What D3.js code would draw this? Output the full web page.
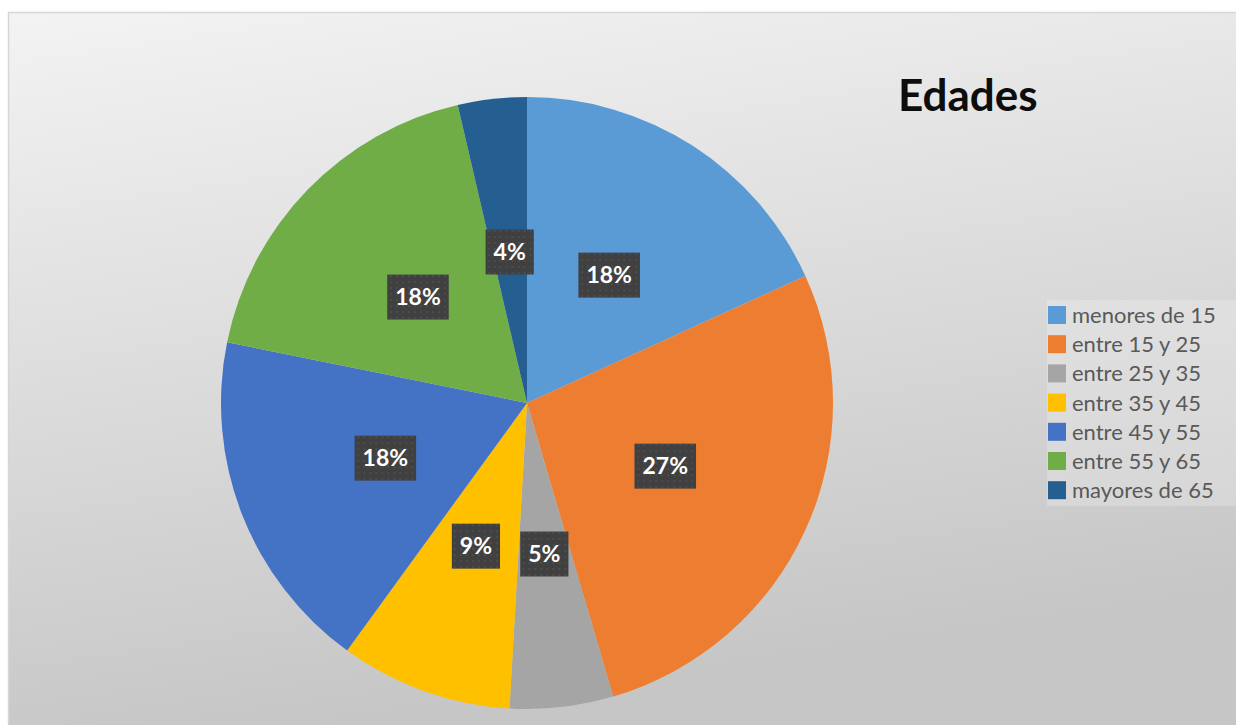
<!DOCTYPE html>
<html>
<head>
<meta charset="utf-8">
<script src="https://cdn.jsdelivr.net/npm/d3@7"></script>
<style>
  html, body { margin: 0; padding: 0; background: #ffffff; }
  svg { display: block; }
</style>
</head>
<body>
<svg id="chart" width="1236" height="725"></svg>
<script>
const categories = ["menores de 15", "entre 15 y 25", "entre 25 y 35", "entre 35 y 45", "entre 45 y 55", "entre 55 y 65", "mayores de 65"];
const values = [10, 15, 3, 5, 10, 10, 2];
const colors = ["#5B9BD5", "#ED7D31", "#A5A5A5", "#FFC000", "#4472C4", "#70AD47", "#255E91"];
const title = "Edades";

const W = 1236, H = 725;
const svg = d3.select("#chart");
const defs = svg.append("defs");

const bg = defs.append("linearGradient").attr("id", "bg")
  .attr("x1", "0").attr("y1", "0").attr("x2", "0.25").attr("y2", "1");
bg.append("stop").attr("offset", "0%").attr("stop-color", "#f3f3f3");
bg.append("stop").attr("offset", "100%").attr("stop-color", "#c6c6c6");

const pat = defs.append("pattern").attr("id", "dots")
  .attr("width", 6).attr("height", 6).attr("patternUnits", "userSpaceOnUse");
pat.append("rect").attr("width", 6).attr("height", 6).attr("fill", "#404040");
pat.append("circle").attr("cx", 3).attr("cy", 3).attr("r", 0.8).attr("fill", "#5a5a5a");

// chart area
svg.append("rect").attr("x", 8).attr("y", 12).attr("width", W - 8).attr("height", H - 12)
  .attr("fill", "url(#bg)");
svg.append("line").attr("x1", 8).attr("x2", W).attr("y1", 12.5).attr("y2", 12.5)
  .attr("stroke", "#d6d6d6").attr("stroke-width", 1.5);
svg.append("line").attr("x1", 8.5).attr("x2", 8.5).attr("y1", 12).attr("y2", H)
  .attr("stroke", "#d6d6d6").attr("stroke-width", 1.5);

const cx = 527, cy = 403, R = 306;
const total = d3.sum(values);
const pie = d3.pie().sort(null).value(d => d);
const arcs = pie(values);
const arc = d3.arc().innerRadius(0).outerRadius(R);
const labelArc = d3.arc().innerRadius(152).outerRadius(152);

const g = svg.append("g").attr("transform", `translate(${cx},${cy})`);
g.selectAll("path.slice").data(arcs).join("path")
  .attr("class", "slice")
  .attr("d", arc)
  .attr("fill", (d, i) => colors[i]);

const lbl = g.selectAll("g.lbl").data(arcs).join("g")
  .attr("class", "lbl")
  .attr("transform", d => `translate(${labelArc.centroid(d)})`);
lbl.each(function(d) {
  const sel = d3.select(this);
  const t = sel.append("text")
    .attr("text-anchor", "middle")
    .attr("dy", "0.36em")
    .attr("font-family", "Lato, 'Open Sans', sans-serif")
    .attr("font-weight", "bold")
    .attr("font-size", 23)
    .attr("fill", "#ffffff")
    .text(Math.round(d.value / total * 100) + "%");
  const w = Math.max(t.node().getComputedTextLength() + 16, 46);
  sel.insert("rect", "text")
    .attr("x", -w / 2).attr("y", -22.5)
    .attr("width", w).attr("height", 45)
    .attr("fill", "url(#dots)");
});

// title
svg.append("text")
  .attr("x", 898).attr("y", 111)
  .attr("font-family", "Lato, 'Open Sans', sans-serif")
  .attr("font-weight", "bold")
  .attr("font-size", 44)
  .attr("fill", "#0d0d0d")
  .text(title);

// legend
const lg = svg.append("g");
lg.append("rect").attr("x", 1047).attr("y", 300).attr("width", W - 1047).attr("height", 206)
  .attr("fill", "#ffffff").attr("opacity", 0.22);
const rowH = 29.2;
const items = lg.selectAll("g.item").data(categories).join("g")
  .attr("class", "item")
  .attr("transform", (d, i) => `translate(1048, ${306 + i * rowH})`);
items.append("rect").attr("width", 18).attr("height", 18)
  .attr("fill", (d, i) => colors[i]);
items.append("text")
  .attr("x", 24).attr("y", 9).attr("dy", "0.36em")
  .attr("font-family", "Lato, 'Open Sans', sans-serif")
  .attr("font-size", 22)
  .attr("fill", "#595959")
  .text(d => d);
</script>
</body>
</html>
